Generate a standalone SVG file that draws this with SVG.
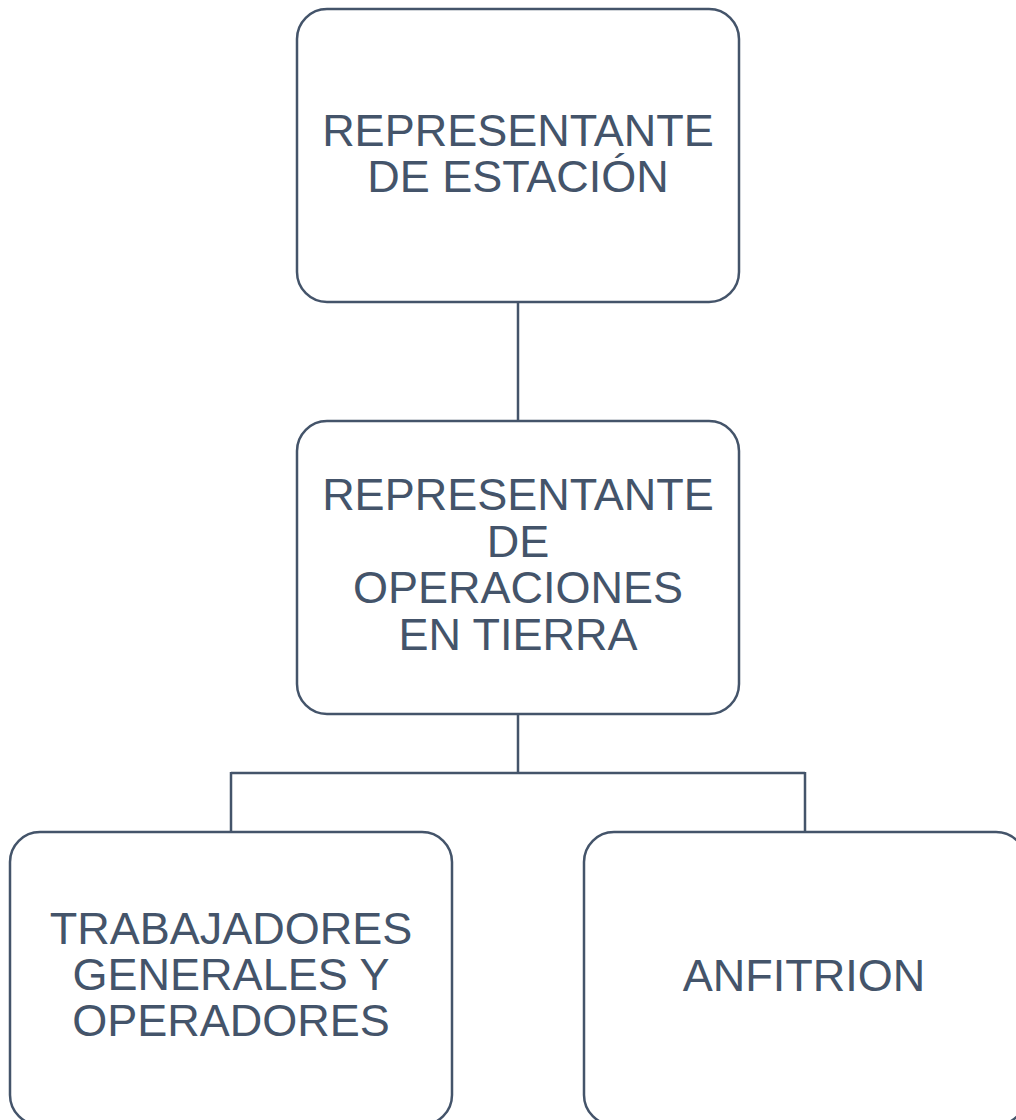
<svg xmlns="http://www.w3.org/2000/svg" width="1016" height="1120" viewBox="0 0 1016 1120">
<style>
.box{fill:#ffffff;stroke:#44546a;stroke-width:2.5}
.lbl{font-family:"Liberation Sans",Arial,sans-serif;font-size:45px;fill:#44546a;text-anchor:middle}
.conn{fill:none;stroke:#44546a;stroke-width:2.5}
</style>
<rect width="1016" height="1120" fill="#ffffff"/>
<g id="connectors">
<path class="conn" d="M518 302 V421"/>
<path class="conn" d="M518 714 V773 M231 773 H805 M231 772 V832 M805 772 V832"/>
</g>
<g id="node-representante-estacion">
<rect class="box" x="297" y="9" width="442" height="293" rx="30"/>
<text class="lbl" x="518" y="146">REPRESENTANTE</text>
<text class="lbl" x="518" y="192">DE ESTACIÓN</text>
</g>
<g id="node-representante-operaciones">
<rect class="box" x="297" y="421" width="442" height="293" rx="30"/>
<text class="lbl" x="518" y="510">REPRESENTANTE</text>
<text class="lbl" x="518" y="557">DE</text>
<text class="lbl" x="518" y="603">OPERACIONES</text>
<text class="lbl" x="518" y="650">EN TIERRA</text>
</g>
<g id="node-trabajadores">
<rect class="box" x="10" y="832" width="442" height="293" rx="30"/>
<text class="lbl" x="231" y="944">TRABAJADORES</text>
<text class="lbl" x="231" y="990">GENERALES Y</text>
<text class="lbl" x="231" y="1036">OPERADORES</text>
</g>
<g id="node-anfitrion">
<rect class="box" x="584" y="832" width="442" height="293" rx="30"/>
<text class="lbl" x="804" y="991">ANFITRION</text>
</g>
</svg>
